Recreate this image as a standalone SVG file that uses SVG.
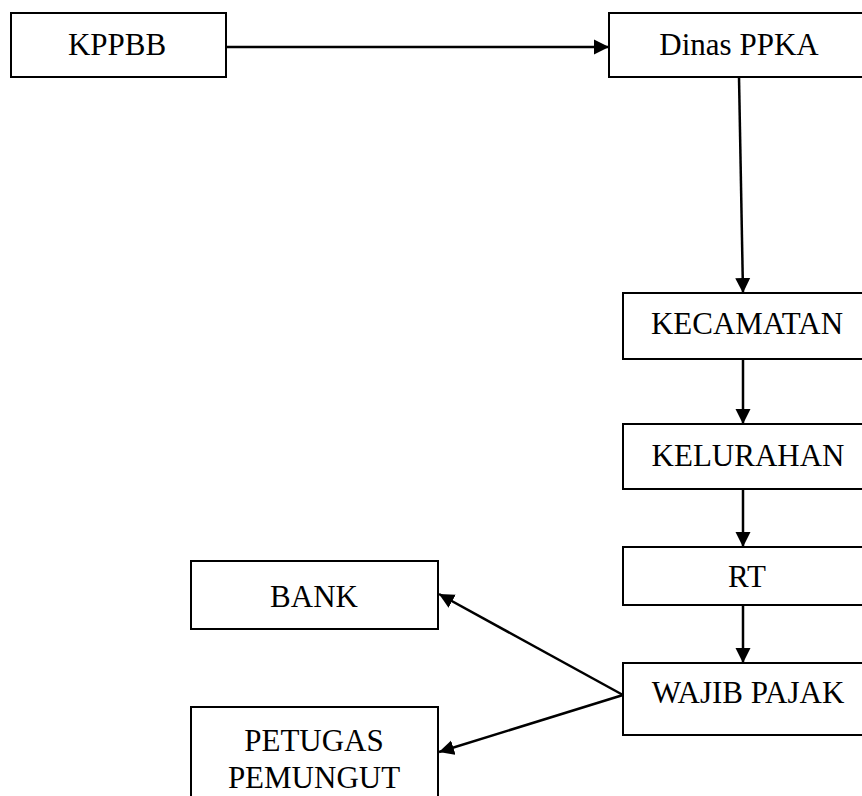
<svg xmlns="http://www.w3.org/2000/svg" width="862" height="796" viewBox="0 0 862 796">
<style>
.box{fill:#fff;stroke:#000;stroke-width:2}
.lbl{font-family:"Liberation Serif","Times New Roman",serif;font-size:31px;fill:#000;text-anchor:middle}
.con{fill:none;stroke:#000;stroke-width:2.5}
</style>
<defs>
<marker id="ah" markerUnits="userSpaceOnUse" markerWidth="16" markerHeight="16" viewBox="0 0 16 16" refX="15" refY="8" orient="auto">
<path d="M0,0.5 L15,8 L0,15.5 Z" fill="#000"/>
</marker>
</defs>
<rect width="862" height="796" fill="#fff"/>
<g id="connectors">
<line class="con" x1="226" y1="47" x2="609" y2="47" marker-end="url(#ah)"/>
<line class="con" x1="739" y1="77" x2="743" y2="293" marker-end="url(#ah)"/>
<line class="con" x1="743" y1="359" x2="743" y2="424" marker-end="url(#ah)"/>
<line class="con" x1="743" y1="489" x2="743" y2="547" marker-end="url(#ah)"/>
<line class="con" x1="743" y1="605" x2="743" y2="663" marker-end="url(#ah)"/>
<line class="con" x1="623" y1="695" x2="439" y2="594" marker-end="url(#ah)"/>
<line class="con" x1="623" y1="695" x2="439" y2="752" marker-end="url(#ah)"/>
</g>
<g id="kppbb"><rect class="box" x="11" y="13" width="215" height="64"/><text class="lbl" x="117" y="55">KPPBB</text></g>
<g id="dinas"><rect class="box" x="609" y="13" width="262" height="64"/><text class="lbl" x="739" y="55">Dinas PPKA</text></g>
<g id="kecamatan"><rect class="box" x="623" y="293" width="249" height="66"/><text class="lbl" x="747" y="334">KECAMATAN</text></g>
<g id="kelurahan"><rect class="box" x="623" y="424" width="249" height="65"/><text class="lbl" x="748" y="466">KELURAHAN</text></g>
<g id="rt"><rect class="box" x="623" y="547" width="249" height="58"/><text class="lbl" x="747" y="587">RT</text></g>
<g id="wajib"><rect class="box" x="623" y="663" width="249" height="72"/><text class="lbl" x="748" y="703">WAJIB PAJAK</text></g>
<g id="bank"><rect class="box" x="191" y="561" width="247" height="68"/><text class="lbl" x="314" y="607">BANK</text></g>
<g id="petugas"><rect class="box" x="191" y="707" width="247" height="100"/><text class="lbl" x="314" y="751">PETUGAS</text><text class="lbl" x="314" y="788">PEMUNGUT</text></g>
</svg>
